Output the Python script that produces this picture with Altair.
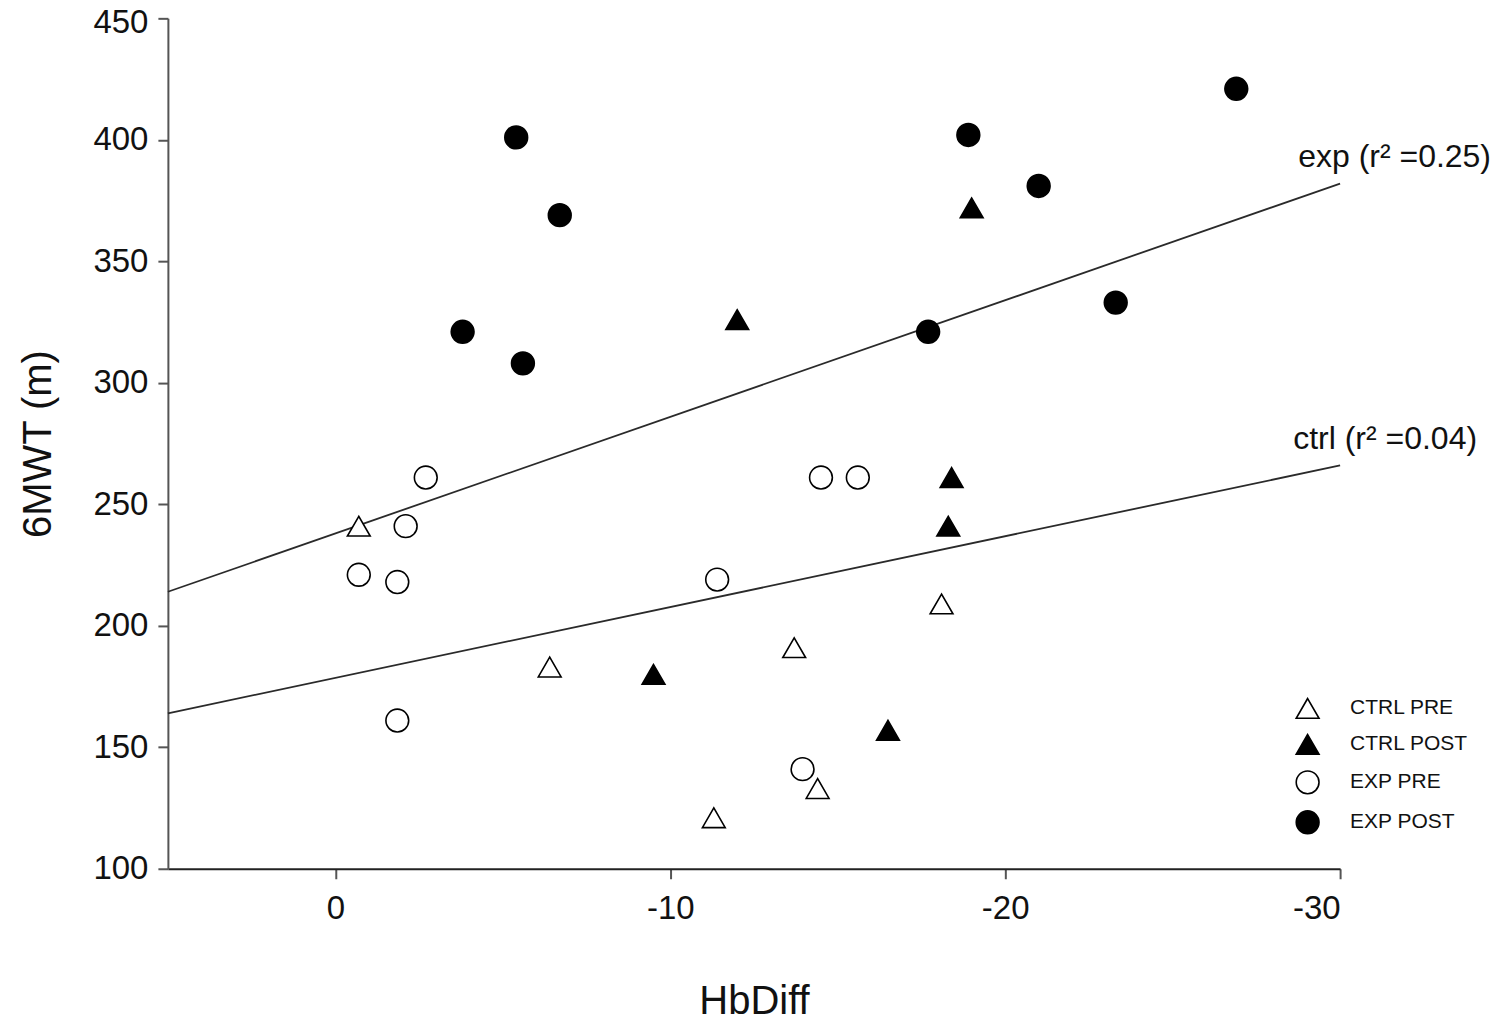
import altair as alt
import pandas as pd

# ---- data ----
ctrl_pre_x = [-0.7, -6.4, -13.7, -18.1, -14.4, -11.3]
ctrl_pre_y = [241, 183, 191, 209, 133, 121]
ctrl_post_x = [-12.0, -19.0, -18.4, -18.3, -9.5, -16.5]
ctrl_post_y = [326, 372, 261, 241, 180, 157]
exp_pre_x = [-2.7, -2.1, -0.7, -1.85, -1.85, -11.4, -14.5, -15.6, -13.95]
exp_pre_y = [261, 241, 221, 218, 161, 219, 261, 261, 141]
exp_post_x = [-5.4, -6.7, -3.8, -5.6, -18.9, -21.0, -26.9, -17.7, -23.3]
exp_post_y = [401, 369, 321, 308, 402, 381, 421, 321, 333]

groups = ["CTRL PRE", "CTRL POST", "EXP PRE", "EXP POST"]
shapes = ["triangle-up", "triangle-up", "circle", "circle"]
fills = ["white", "black", "white", "black"]
strokes = ["black", "black", "black", "black"]
sizes = [520, 520, 340, 340]

fit_x = [5, -30]
fit_exp_y = [214, 382]
fit_ctrl_y = [164, 266]

label_text = ["exp (r\u00b2 =0.25)", "ctrl (r\u00b2 =0.04)"]
label_x = [-28.75, -28.6]
label_y = [393, 277]

# ---- tables ----
rows = []
for g, xs, ys in zip(groups,
                     [ctrl_pre_x, ctrl_post_x, exp_pre_x, exp_post_x],
                     [ctrl_pre_y, ctrl_post_y, exp_pre_y, exp_post_y]):
    for x, y in zip(xs, ys):
        rows.append({"group": g, "x": x, "y": y})
pts = pd.DataFrame(rows)

lines = pd.DataFrame(
    [{"fit": "exp", "x": x, "y": y} for x, y in zip(fit_x, fit_exp_y)]
    + [{"fit": "ctrl", "x": x, "y": y} for x, y in zip(fit_x, fit_ctrl_y)]
)
labels = pd.DataFrame({"t": label_text, "x": label_x, "y": label_y})

FONT = "Liberation Sans"

xscale = alt.Scale(domain=[-30, 5], reverse=True, nice=False, zero=False)
yscale = alt.Scale(domain=[100, 450], nice=False, zero=False)

xaxis = alt.Axis(values=[0, -10, -20, -30], title="HbDiff", grid=False,
                 labelExpr="datum.value + ''",
                 labelFontSize=33, titleFontSize=40, titleFontWeight="normal",
                 labelFont=FONT, titleFont=FONT, labelColor="#111",
                 titleColor="#111", tickSize=10, labelPadding=14,
                 titlePadding=56, domainColor="#222", domainWidth=2,
                 tickColor="#555", tickWidth=2)
yaxis = alt.Axis(values=[100, 150, 200, 250, 300, 350, 400, 450],
                 title="6MWT (m)", grid=False,
                 labelFontSize=33, titleFontSize=40, titleFontWeight="normal",
                 labelFont=FONT, titleFont=FONT, labelColor="#111",
                 titleColor="#111", tickSize=10, labelPadding=10,
                 labelOffset={"condition": {"test": "datum.value == 450",
                                            "value": 4}, "value": 0},
                 titlePadding=34, domainColor="#555", domainWidth=2,
                 tickColor="#555", tickWidth=2)

base_x = alt.X("x:Q", scale=xscale, axis=xaxis)
base_y = alt.Y("y:Q", scale=yscale, axis=yaxis)

line_layer = alt.Chart(lines).mark_line(color="#2a2a2a", strokeWidth=1.8).encode(
    x=base_x, y=base_y, detail="fit:N"
)

leg = alt.Legend(title=None, orient="none", legendX=1128, legendY=678,
                 padding=0, labelFont=FONT, labelFontSize=21,
                 labelColor="#111", labelOffset=30, rowPadding=9,
                 symbolStrokeWidth=1.6, labelLimit=300)

pt_layer = alt.Chart(pts).mark_point(
    filled=True, strokeWidth=1.6, opacity=1
).encode(
    x="x:Q",
    y="y:Q",
    shape=alt.Shape("group:N", scale=alt.Scale(domain=groups, range=shapes),
                    legend=leg),
    fill=alt.Fill("group:N", scale=alt.Scale(domain=groups, range=fills),
                  legend=leg),
    stroke=alt.Stroke("group:N", scale=alt.Scale(domain=groups, range=strokes),
                      legend=leg),
    size=alt.Size("group:N", scale=alt.Scale(domain=groups, range=sizes),
                  legend=leg),
)

txt_layer = alt.Chart(labels).mark_text(
    align="left", baseline="middle", fontSize=32, font=FONT, color="#111"
).encode(x="x:Q", y="y:Q", text="t:N")

chart = alt.layer(line_layer, pt_layer, txt_layer).properties(
    width=1173, height=851,
    autosize=alt.AutoSizeParams(type="none"),
    padding={"left": 160, "top": 10, "right": 152, "bottom": 152},
).configure_view(stroke=None)

chart.save("out.html", embed_options={"renderer": "svg", "actions": False})
